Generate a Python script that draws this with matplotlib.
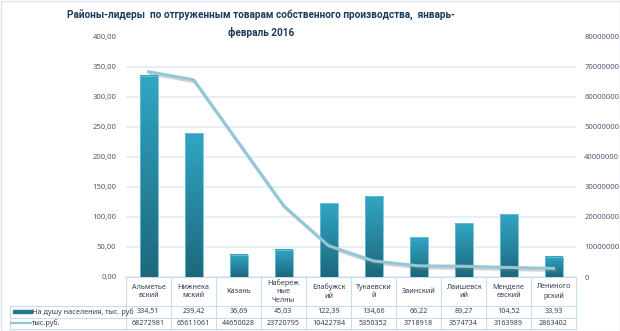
import matplotlib
matplotlib.use("Agg")
import matplotlib.pyplot as plt
import matplotlib.patheffects as pe
from matplotlib.transforms import blended_transform_factory
from matplotlib.colors import LinearSegmentedColormap
from matplotlib.patches import Rectangle
from matplotlib import font_manager
import numpy as np

plt.rcParams['font.family'] = ['Noto Sans', 'DejaVu Sans']

categories = ["Альметье\nвский", "Нижнека\nмский", "Казань", "Набереж\nные\nЧелны",
              "Елабужск\nий", "Тукаевски\nй", "Заинский", "Лаишевск\nий",
              "Менделе\nевский", "Лениного\nрский"]
per_capita = [334.51, 239.42, 36.69, 45.03, 122.39, 134.66, 66.22, 89.27, 104.52, 33.93]
total = [68272981, 65611061, 44650028, 23720795, 10422784, 5350352, 3718918, 3574734, 3163989, 2863402]
series_names = ["На душу населения, тыс. руб", "тыс.руб."]
title_lines = ["Районы-лидеры  по отгруженным товарам собственного производства,  январь-",
               "февраль 2016"]

installed = {f.name for f in font_manager.fontManager.ttflist}
title_family = next((f for f in ['Liberation Sans Narrow', 'Roboto', 'Noto Sans', 'Open Sans']
                     if f in installed), 'DejaVu Sans')

W, H = 620, 331
fig = plt.figure(figsize=(W/100, H/100), dpi=100)
fig.patch.set_facecolor('white')

bg = fig.add_axes([0, 0, 1, 1], zorder=0)
bg.set_xlim(0, W); bg.set_ylim(H, 0); bg.axis('off')
bg.add_patch(Rectangle((0.5, 0.5), W-1, H-1, fill=False, edgecolor='#d9e2ee', lw=1))

L, R, T, B = 126, 576, 36.5, 277
ax = fig.add_axes([L/W, 1-B/H, (R-L)/W, (B-T)/H], zorder=2)
ax.patch.set_alpha(0)
n = len(categories)
x = np.arange(n)
ax.set_xlim(-0.5, n-0.5)
ax.set_ylim(0, 400)
ax.set_yticks(np.arange(0, 401, 50))
ax.set_yticklabels([f"{v:.2f}".replace('.', ',') for v in np.arange(0, 401, 50)])
ax.tick_params(axis='y', length=0, labelsize=5.5, labelcolor='#4f5b73', pad=7)
ax.set_xticks([])
for s in ax.spines.values():
    s.set_visible(False)
ax.grid(axis='y', color='#e3ebf5', lw=1.2)
ax.set_axisbelow(True)

cmap = LinearSegmentedColormap.from_list('g', ['#1d677c', '#31a6c4'])
grad = np.linspace(0, 1, 256).reshape(-1, 1)
bars = ax.bar(x, per_capita, width=0.4, color='none', edgecolor='#6cc0d6', lw=0.6, zorder=3)
for b in bars:
    x0, y0, w, h = b.get_x(), b.get_y(), b.get_width(), b.get_height()
    ax.imshow(grad, extent=(x0, x0+w, y0, y0+h), origin='lower', cmap=cmap,
              aspect='auto', zorder=2.9)
ax.set_xlim(-0.5, n-0.5)
ax.set_ylim(0, 400)

ax2 = ax.twinx()
ax2.set_ylim(0, 80000000)
ax2.set_yticks(np.arange(0, 80000001, 10000000))
ax2.set_yticklabels([f"{int(v)}" for v in np.arange(0, 80000001, 10000000)])
ax2.tick_params(axis='y', length=0, labelsize=5.5, labelcolor='#4f5b73', pad=6)
for s in ax2.spines.values():
    s.set_visible(False)
ax2.plot(x, total, color='#93c8d8', lw=2.2, solid_joinstyle='round', zorder=5,
         path_effects=[pe.SimpleLineShadow(offset=(1.2, -1.5), shadow_color='#808080', alpha=0.35),
                       pe.Normal()])

# title (two lines, sized to the reference width)
tcol = '#1c3a5e'
renderer = fig.canvas.get_renderer()
t1 = fig.text(261/W, 1-15.5/H, title_lines[0], ha='center', va='center', fontsize=8,
              fontweight='bold', color=tcol, family=[title_family, 'DejaVu Sans'])
w1 = t1.get_window_extent(renderer).width
fs = 8 * 387 / w1
t1.set_fontsize(fs)
fig.text(261/W, 1-32.5/H, title_lines[1], ha='center', va='center', fontsize=fs,
         fontweight='bold', color=tcol, family=[title_family, 'DejaVu Sans'])

# data table
tr = blended_transform_factory(ax.transData, bg.transData)
bc = '#c9dcee'
rows_y = [277, 306, 317.5, 329]
bg.plot([L, R], [rows_y[0], rows_y[0]], color=bc, lw=0.8)
for yy in rows_y[1:]:
    bg.plot([10, R], [yy, yy], color=bc, lw=0.8)
for i in range(n+1):
    bg.plot([L + i*(R-L)/n]*2, [rows_y[0], rows_y[-1]], color=bc, lw=0.8)
bg.plot([10, 10], [rows_y[1], rows_y[-1]], color=bc, lw=0.8)

tc = '#333f55'
for i, c in enumerate(categories):
    ax.text(i, (rows_y[0]+rows_y[1])/2, c, transform=tr, ha='center', va='center',
            fontsize=5.2, color=tc, linespacing=1.35)
    ax.text(i, (rows_y[1]+rows_y[2])/2, f"{per_capita[i]:.2f}".replace('.', ','), transform=tr,
            ha='center', va='center', fontsize=5.2, color=tc)
    ax.text(i, (rows_y[2]+rows_y[3])/2, f"{total[i]}", transform=tr,
            ha='center', va='center', fontsize=5.2, color=tc)

y1 = (rows_y[1]+rows_y[2])/2
y2 = (rows_y[2]+rows_y[3])/2
bg.add_patch(Rectangle((13, y1-1.6), 19, 3.2, color='#237a90'))
bg.plot([11, 31], [y2, y2], color='#8fc6d6', lw=1.6)
bg.text(32, y1, series_names[0], ha='left', va='center', fontsize=5.2, color=tc)
bg.text(32, y2, series_names[1], ha='left', va='center', fontsize=5.2, color=tc)

fig.savefig('out.png', dpi=100)
